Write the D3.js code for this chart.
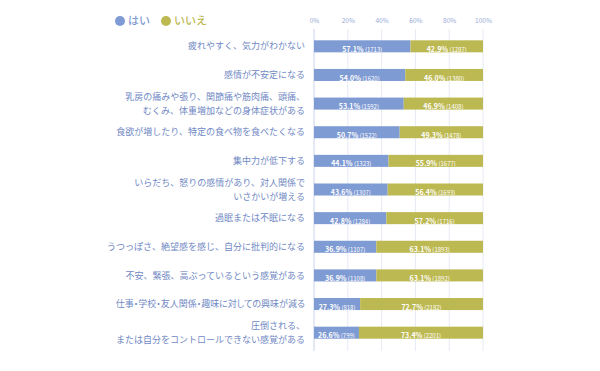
<!DOCTYPE html>
<html><head><meta charset="utf-8">
<script src="https://cdn.jsdelivr.net/npm/d3@7"></script>
<style>body{margin:0;background:#fff}svg{display:block}</style>
</head><body>
<script>
const categories = [
  ["疲れやすく、気力がわかない"],
  ["感情が不安定になる"],
  ["乳房の痛みや張り、関節痛や筋肉痛、頭痛、", "むくみ、体重増加などの身体症状がある"],
  ["食欲が増したり、特定の食べ物を食べたくなる"],
  ["集中力が低下する"],
  ["いらだち、怒りの感情があり、対人関係で", "いさかいが増える"],
  ["過眠または不眠になる"],
  ["うつっぽさ、絶望感を感じ、自分に批判的になる"],
  ["不安、緊張、高ぶっているという感覚がある"],
  ["仕事・学校・友人関係・趣味に対しての興味が減る"],
  ["圧倒される、", "または自分をコントロールできない感覚がある"]
];
const yesPct = [57.1, 54.0, 53.1, 50.7, 44.1, 43.6, 42.8, 36.9, 36.9, 27.3, 26.6];
const yesN   = [1713, 1620, 1592, 1522, 1323, 1307, 1284, 1107, 1108, 818, 799];
const noPct  = [42.9, 46.0, 46.9, 49.3, 55.9, 56.4, 57.2, 63.1, 63.1, 72.7, 73.4];
const noN    = [1287, 1380, 1408, 1478, 1677, 1693, 1716, 1893, 1892, 2182, 2201];
const seriesNames = ["はい", "いいえ"];
const tickValues = [0, 20, 40, 60, 80, 100];

const W = 600, H = 371;
const blue = "#7f9bd3", olive = "#bdb952", labelColor = "#7189c4";
const font = "'Noto Sans CJK JP', 'Noto Sans', sans-serif";

const svg = d3.select("body").append("svg").attr("width", W).attr("height", H)
  .style("font-family", font);

const x = d3.scaleLinear().domain([0, 100]).range([314, 483]);
const y = d3.scaleBand().domain(d3.range(categories.length)).range([32, 347]).paddingInner(0.58).paddingOuter(0.29);

// grid
svg.append("g").selectAll("line").data(tickValues).join("line")
  .attr("x1", d => x(d)).attr("x2", d => x(d))
  .attr("y1", 29).attr("y2", 351)
  .attr("stroke", d => d === 0 ? "#c9d3ea" : "#e6eaf3").attr("stroke-width", 1);

// axis labels
const axis = d3.axisTop(x).tickValues(tickValues).tickFormat(d => d + "%").tickSize(0);
const ag = svg.append("g").attr("transform", "translate(0,26)").call(axis);
ag.select(".domain").remove();
ag.selectAll("text").attr("fill", "#98abd6").style("font-size", "6.5px").style("font-family", font);

// bars
const rows = svg.append("g").selectAll("g").data(categories).join("g");
rows.append("rect").attr("x", x(0)).attr("y", (d, i) => y(i))
  .attr("width", (d, i) => x(yesPct[i]) - x(0)).attr("height", y.bandwidth()).attr("fill", blue);
rows.append("rect").attr("x", (d, i) => x(yesPct[i])).attr("y", (d, i) => y(i))
  .attr("width", (d, i) => x(100) - x(yesPct[i])).attr("height", y.bandwidth()).attr("fill", olive);

function segLabel(cx, i, pct, n) {
  const t = rows.filter((d, j) => j === i).append("text")
    .attr("x", cx).attr("y", y(i) + y.bandwidth() / 2)
    .attr("dy", "0.35em").attr("text-anchor", "middle").attr("fill", "#fff");
  t.append("tspan").text(pct.toFixed(1) + "%").style("font-size", "7px").style("font-weight", "bold");
  t.append("tspan").text(" (" + n + ")").style("font-size", "6px");
}
categories.forEach((c, i) => {
  segLabel((x(0) + x(yesPct[i])) / 2, i, yesPct[i], yesN[i]);
  segLabel((x(yesPct[i]) + x(100)) / 2, i, noPct[i], noN[i]);
});

// category labels
rows.each(function(lines, i) {
  const cy = y(i) + y.bandwidth() / 2;
  const lh = 14;
  const t = d3.select(this).append("text").attr("text-anchor", "end")
    .attr("fill", labelColor).style("font-size", "9px");
  lines.forEach((l, k) => {
    t.append("tspan").attr("x", 305)
      .attr("y", cy + (k - (lines.length - 1) / 2) * lh)
      .attr("dy", "0.35em")
      .style("font-feature-settings", l.includes("・") ? "'palt'" : "normal")
      .text(l);
  });
});

// legend
const lg = svg.append("g");
const legendItems = [{name: seriesNames[0], c: blue, x: 120}, {name: seriesNames[1], c: olive, x: 166}];
lg.selectAll("circle").data(legendItems).join("circle")
  .attr("cx", d => d.x).attr("cy", 21).attr("r", 5).attr("fill", d => d.c);
lg.selectAll("text").data(legendItems).join("text")
  .attr("x", d => d.x + 8).attr("y", 21).attr("dy", "0.36em")
  .attr("fill", d => d.c).style("font-size", "11px").style("font-weight", "500").text(d => d.name);
</script>
</body></html>
